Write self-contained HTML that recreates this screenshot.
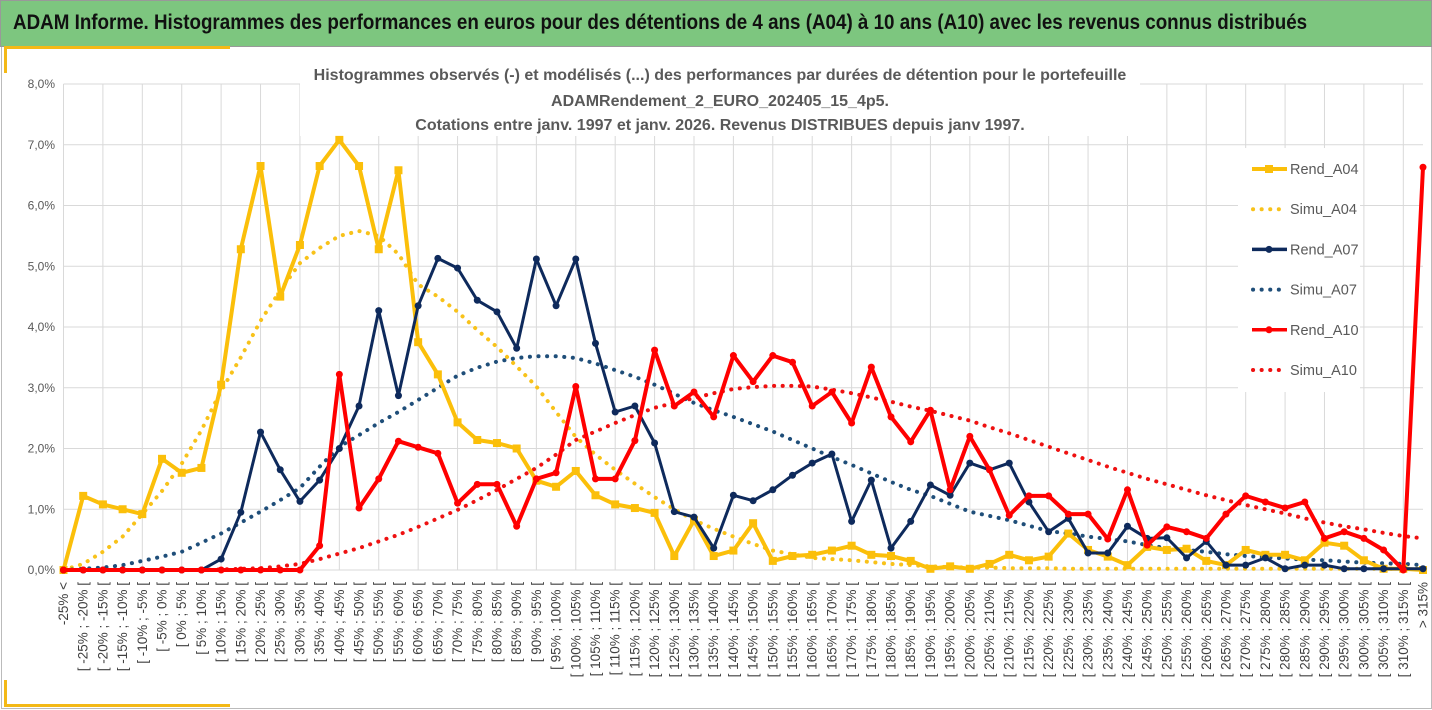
<!DOCTYPE html>
<html><head><meta charset="utf-8">
<style>
html,body{margin:0;padding:0;background:#fff;}
body{width:1432px;height:710px;overflow:hidden;position:relative;font-family:"Liberation Sans",sans-serif;}
#hdr{position:absolute;left:0;top:0;width:1430px;height:45px;background:#7dc67f;border:1px solid #999;}
#hdr span{position:absolute;left:12px;top:10px;font-size:21px;font-weight:bold;color:#111;white-space:nowrap;transform:scaleX(0.895);transform-origin:0 0;}
#frame{position:absolute;left:1px;top:47px;width:1429px;height:661px;border:1px solid #bbb;border-top:none;}
.or{position:absolute;background:#f4b916;}
svg{position:absolute;left:0;top:0;}
</style></head>
<body>
<div id="hdr"><span>ADAM Informe. Histogrammes des performances en euros pour des détentions de 4 ans (A04) à 10 ans (A10) avec les revenus connus distribués</span></div>
<div id="frame"></div>
<div class="or" style="left:4px;top:46px;width:226px;height:3px"></div>
<div class="or" style="left:4px;top:46px;width:3px;height:27px"></div>
<div class="or" style="left:4px;top:704px;width:226px;height:3px"></div>
<div class="or" style="left:4px;top:680px;width:3px;height:27px"></div>
<svg id="chart" width="1432" height="710"></svg>
<script>
const rendA04=[0,1.22,1.08,1.0,0.92,1.83,1.6,1.68,3.05,5.28,6.65,4.5,5.35,6.65,7.08,6.65,5.28,6.58,3.75,3.22,2.43,2.14,2.09,2.0,1.47,1.37,1.63,1.23,1.08,1.02,0.94,0.23,0.82,0.23,0.32,0.77,0.15,0.23,0.25,0.32,0.4,0.25,0.23,0.15,0.02,0.06,0.02,0.1,0.25,0.16,0.22,0.6,0.33,0.22,0.08,0.38,0.33,0.35,0.15,0.08,0.33,0.25,0.25,0.16,0.45,0.4,0.16,0.02,0.02,0];
const simuA04=[0,0.1,0.3,0.55,0.92,1.3,1.75,2.3,2.95,3.5,4.1,4.6,5.05,5.3,5.5,5.58,5.5,5.2,4.7,4.5,4.25,3.95,3.67,3.35,3.02,2.6,2.19,1.9,1.65,1.42,1.2,1.0,0.82,0.68,0.55,0.43,0.32,0.26,0.2,0.18,0.16,0.13,0.1,0.08,0.06,0.05,0.04,0.04,0.03,0.03,0.03,0.02,0.02,0.02,0.02,0.02,0.02,0.02,0.02,0.02,0.02,0.02,0.02,0.02,0.02,0.02,0.02,0.02,0.02,0.02];
const rendA07=[0,0,0,0,0,0,0,0,0.18,0.95,2.27,1.65,1.13,1.48,2.0,2.7,4.27,2.87,4.35,5.13,4.97,4.44,4.25,3.65,5.12,4.35,5.12,3.73,2.6,2.7,2.09,0.96,0.87,0.36,1.23,1.14,1.32,1.56,1.76,1.91,0.8,1.48,0.36,0.8,1.4,1.23,1.76,1.65,1.76,1.12,0.63,0.85,0.28,0.28,0.72,0.52,0.53,0.2,0.47,0.08,0.08,0.2,0.02,0.08,0.08,0.02,0.02,0.02,0.02,0.02];
const simuA07=[0,0.02,0.04,0.08,0.15,0.22,0.3,0.45,0.6,0.78,0.96,1.15,1.35,1.7,2.03,2.22,2.42,2.6,2.8,3.0,3.2,3.33,3.43,3.49,3.52,3.52,3.49,3.4,3.29,3.18,3.05,2.9,2.75,2.63,2.52,2.4,2.28,2.14,2.0,1.86,1.73,1.59,1.45,1.32,1.22,1.09,0.96,0.89,0.82,0.73,0.64,0.6,0.55,0.51,0.47,0.41,0.36,0.33,0.3,0.26,0.23,0.21,0.19,0.17,0.16,0.14,0.12,0.11,0.1,0.08];
const rendA10=[0,0,0,0,0,0,0,0,0,0,0,0,0,0.4,3.22,1.02,1.5,2.12,2.02,1.92,1.1,1.41,1.41,0.72,1.5,1.6,3.02,1.5,1.5,2.13,3.62,2.7,2.93,2.52,3.53,3.1,3.53,3.42,2.7,2.93,2.42,3.34,2.52,2.11,2.63,1.32,2.2,1.65,0.9,1.22,1.22,0.92,0.92,0.51,1.32,0.41,0.71,0.63,0.52,0.92,1.22,1.12,1.02,1.12,0.52,0.63,0.52,0.33,0,6.63];
const simuA10=[0,0,0,0,0,0,0,0,0.01,0.02,0.03,0.06,0.1,0.18,0.27,0.36,0.47,0.58,0.71,0.85,0.99,1.15,1.32,1.5,1.68,1.9,2.14,2.28,2.42,2.55,2.67,2.75,2.83,2.91,2.98,3.01,3.03,3.03,3.02,2.97,2.91,2.84,2.77,2.69,2.62,2.54,2.46,2.35,2.25,2.14,2.03,1.92,1.81,1.7,1.6,1.5,1.41,1.32,1.23,1.15,1.07,1.0,0.93,0.85,0.78,0.72,0.67,0.61,0.56,0.52];
const yTicks=[0,1,2,3,4,5,6,7,8];
const yTickLabels=["0,0%","1,0%","2,0%","3,0%","4,0%","5,0%","6,0%","7,0%","8,0%"];
const categories=["-25% <"];
for(let a=-25;a<315;a+=5){categories.push("[ "+a+"% ; "+(a+5)+"% [");}
categories.push("> 315%");

const NS="http://www.w3.org/2000/svg";
const svg=document.getElementById('chart');
const X0=63.5,X1=1423,Y0=570,Y8=84;
const xs=i=>X0+(X1-X0)*i/(categories.length-1);
const ys=v=>Y0-(Y0-Y8)*v/8;
function mk(tag,attrs,parent){const e=document.createElementNS(NS,tag);for(const k in attrs)e.setAttribute(k,attrs[k]);(parent||svg).appendChild(e);return e;}

for(let i=0;i<yTicks.length;i++){
  const l=mk('line',{x1:X0,x2:X1,y1:ys(yTicks[i]),y2:ys(yTicks[i]),stroke:'#d9d9d9','stroke-width':1});
  
  
  const t=mk('text',{x:55,y:ys(yTicks[i])+4,'text-anchor':'end','font-size':'12','fill':'#595959'});
  t.textContent=yTickLabels[i];
  
  
}
for(let i=0;i<categories.length;i+=2){
  const l=mk('line',{x1:xs(i),x2:xs(i),y1:Y8,y2:Y0,stroke:'#d9d9d9','stroke-width':1});
  
  
}
for(let i=0;i<categories.length;i++){
  const x=xs(i)+4.5;
  const t=mk('text',{x:x,y:582,'text-anchor':'end','font-size':'13.5','fill':'#404040',transform:'rotate(-90 '+x+' 582)'});
  t.textContent=categories[i];
  
  
}
const tb=mk('rect',{x:300,y:58,width:840,height:78,fill:'#fff'});


const titles=["Histogrammes observés (-) et modélisés (...) des performances par durées de détention pour le portefeuille","ADAMRendement_2_EURO_202405_15_4p5.","Cotations  entre janv. 1997 et janv. 2026. Revenus DISTRIBUES depuis janv 1997."];
const ty=[80,106,130];
titles.forEach((s,k)=>{const t=mk('text',{x:720,y:ty[k],'text-anchor':'middle','font-size':'16','font-weight':'bold','fill':'#595959'});t.textContent=s;
  
  });

function pts(arr){return arr.map((v,i)=>xs(i).toFixed(1)+','+ys(v).toFixed(1)).join(' ');}
const series=[
 {d:simuA04,c:'#f8c21a',dot:true,name:'simu-a04-line'},
 {d:simuA07,c:'#1f4e79',dot:true,name:'simu-a07-line'},
 {d:simuA10,c:'#ee1111',dot:true,name:'simu-a10-line'},
 {d:rendA04,c:'#fbbf0a',w:4,m:'sq',name:'rend-a04-line'},
 {d:rendA07,c:'#0e2a5c',w:3,m:'ci',name:'rend-a07-line'},
 {d:rendA10,c:'#ff0000',w:4,m:'ci',name:'rend-a10-line'}
];
series.forEach(s=>{
  let p;
  if(s.dot){p=mk('polyline',{points:pts(s.d),fill:'none',stroke:s.c,'stroke-width':4,'stroke-dasharray':'0.1 8.5','stroke-linecap':'round'});}
  else{p=mk('polyline',{points:pts(s.d),fill:'none',stroke:s.c,'stroke-width':s.w,'stroke-linejoin':'round'});}
  
  
  if(s.m){s.d.forEach((v,i)=>{let e;
    if(s.m==='sq')e=mk('rect',{x:xs(i)-4,y:ys(v)-4,width:8,height:8,fill:s.c});
    else e=mk('circle',{cx:xs(i),cy:ys(v),r:3.5,fill:s.c});
    
    });}
});
const lg=mk('rect',{x:1238,y:148,width:122,height:244,fill:'#fff'});


const legItems=[['Rend_A04','#fbbf0a',0,'sq'],['Simu_A04','#f8c21a',1],['Rend_A07','#0e2a5c',0,'ci'],['Simu_A07','#1f4e79',1],['Rend_A10','#ff0000',0,'ci'],['Simu_A10','#ee1111',1]];
legItems.forEach((it,k)=>{const y=169+k*40.2;
  const g=mk('g',{});
  
  
  if(it[2]){mk('line',{x1:1253,x2:1282,y1:y,y2:y,stroke:it[1],'stroke-width':4,'stroke-dasharray':'0.1 8.5','stroke-linecap':'round'},g);}
  else{mk('line',{x1:1252,x2:1287,y1:y,y2:y,stroke:it[1],'stroke-width':it[3]==='sq'?4:3.5},g);
    if(it[3]==='sq')mk('rect',{x:1265,y:y-4,width:8,height:8,fill:it[1]},g);else mk('circle',{cx:1269,cy:y,r:3.5,fill:it[1]},g);}
  const t=mk('text',{x:1290,y:y+5,'font-size':'14.5','fill':'#595959'},g);t.textContent=it[0];});
</script>
</body></html>
